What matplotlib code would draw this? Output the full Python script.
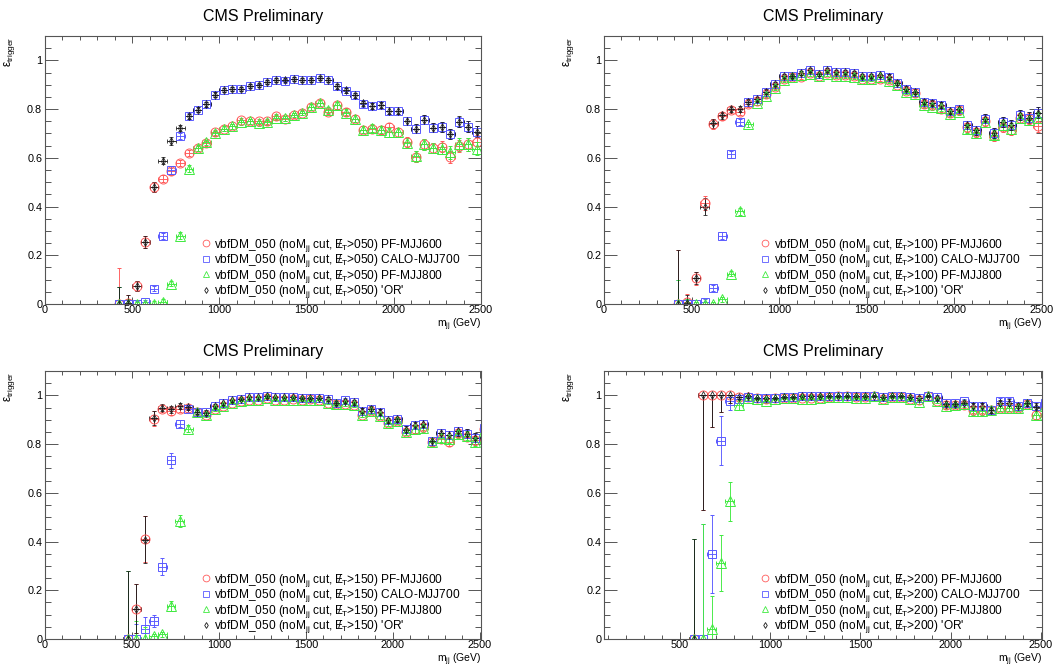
"""
Trigger efficiency vs m_jj for four MET thresholds (vbfDM_050 sample).
"""

import numpy as np
import matplotlib
matplotlib.use("Agg")
import matplotlib.pyplot as plt
from matplotlib.lines import Line2D
from matplotlib.ticker import MultipleLocator, FuncFormatter

plt.rcParams['font.family'] = ['Liberation Sans', 'DejaVu Sans']
plt.rcParams['mathtext.fontset'] = 'custom'
plt.rcParams['mathtext.rm'] = 'Liberation Sans'
plt.rcParams['mathtext.it'] = 'Liberation Sans:italic'
plt.rcParams['mathtext.bf'] = 'Liberation Sans:bold'

# bin centres, 50 GeV bins
MJJ_050 = list(range(425, 2500, 50))
MJJ_100 = list(range(425, 2500, 50))
MJJ_150 = list(range(475, 2550, 50))
MJJ_200 = list(range(575, 2550, 50))

SERIES = ["PF-MJJ600", "CALO-MJJ700", "PF-MJJ800", "'OR'"]

# ---- MET > 050 ----
EFF_050_PF600 = [0.0, 0.005, 0.075, 0.255, 0.48, 0.515, 0.545, 0.58, 0.62, 0.64,
                 0.66, 0.705, 0.72, 0.73, 0.755, 0.75, 0.75, 0.75, 0.77, 0.76,
                 0.775, 0.785, 0.81, 0.825, 0.79, 0.815, 0.79, 0.76, 0.715, 0.72,
                 0.715, 0.725, 0.705, 0.665, 0.605, 0.655, 0.64, 0.645, 0.605, 0.65,
                 0.655, 0.665]
EFF_050_CALO700 = [0.0, 0.0, 0.002, 0.008, 0.063, 0.28, 0.55, 0.69, 0.77, 0.797,
                   0.82, 0.859, 0.877, 0.882, 0.882, 0.896, 0.897, 0.91, 0.918, 0.917,
                   0.924, 0.92, 0.92, 0.928, 0.92, 0.894, 0.876, 0.857, 0.822, 0.812,
                   0.817, 0.793, 0.793, 0.75, 0.72, 0.756, 0.724, 0.728, 0.697, 0.748,
                   0.728, 0.708]
EFF_050_PF800 = [0.0, 0.0, 0.0, 0.0, 0.002, 0.01, 0.084, 0.28, 0.556, 0.64,
                 0.663, 0.70, 0.72, 0.73, 0.746, 0.75, 0.741, 0.745, 0.765, 0.762,
                 0.776, 0.784, 0.81, 0.826, 0.798, 0.815, 0.786, 0.76, 0.715, 0.722,
                 0.716, 0.704, 0.705, 0.662, 0.606, 0.656, 0.64, 0.638, 0.622, 0.655,
                 0.655, 0.638]
EFF_050_OR = [0.0, 0.005, 0.075, 0.255, 0.481, 0.588, 0.669, 0.723, 0.771, 0.797,
              0.82, 0.859, 0.878, 0.883, 0.883, 0.896, 0.898, 0.911, 0.919, 0.918,
              0.925, 0.92, 0.92, 0.929, 0.92, 0.894, 0.877, 0.857, 0.823, 0.812,
              0.818, 0.793, 0.794, 0.75, 0.719, 0.757, 0.724, 0.728, 0.697, 0.749,
              0.728, 0.708]
ERR_050_PF600 = [0.147, 0.03, 0.02, 0.025, 0.02, 0.015, 0.015, 0.012, 0.012, 0.01,
                 0.01, 0.01, 0.01, 0.01, 0.01, 0.01, 0.01, 0.01, 0.01, 0.01,
                 0.01, 0.01, 0.012, 0.012, 0.012, 0.013, 0.013, 0.014, 0.015, 0.015,
                 0.016, 0.017, 0.018, 0.02, 0.022, 0.022, 0.022, 0.023, 0.025, 0.025,
                 0.026, 0.027]
ERR_050_CALO700 = [0.07, 0.02, 0.01, 0.01, 0.01, 0.012, 0.015, 0.012, 0.012, 0.01,
                   0.01, 0.01, 0.008, 0.008, 0.008, 0.008, 0.008, 0.008, 0.008, 0.008,
                   0.008, 0.008, 0.008, 0.008, 0.008, 0.01, 0.01, 0.01, 0.012, 0.012,
                   0.013, 0.014, 0.015, 0.017, 0.018, 0.018, 0.019, 0.02, 0.021, 0.021,
                   0.022, 0.023]
ERR_050_PF800 = [0.07, 0.02, 0.01, 0.01, 0.01, 0.01, 0.012, 0.015, 0.015, 0.012,
                 0.01, 0.01, 0.01, 0.01, 0.01, 0.01, 0.01, 0.01, 0.01, 0.01,
                 0.01, 0.01, 0.012, 0.012, 0.012, 0.013, 0.013, 0.014, 0.015, 0.015,
                 0.016, 0.017, 0.018, 0.02, 0.022, 0.022, 0.022, 0.023, 0.025, 0.025,
                 0.026, 0.027]
ERR_050_OR = [0.07, 0.03, 0.02, 0.025, 0.02, 0.015, 0.015, 0.012, 0.01, 0.01,
              0.01, 0.01, 0.008, 0.008, 0.008, 0.008, 0.008, 0.008, 0.008, 0.008,
              0.008, 0.008, 0.008, 0.008, 0.008, 0.01, 0.01, 0.01, 0.012, 0.012,
              0.013, 0.014, 0.015, 0.017, 0.018, 0.018, 0.019, 0.02, 0.021, 0.021,
              0.022, 0.023]

# ---- MET > 100 ----
EFF_100_PF600 = [0.0, 0.01, 0.105, 0.415, 0.74, 0.77, 0.795, 0.787, 0.82, 0.835,
                 0.86, 0.89, 0.925, 0.93, 0.933, 0.95, 0.935, 0.95, 0.94, 0.94,
                 0.935, 0.925, 0.925, 0.925, 0.92, 0.90, 0.875, 0.865, 0.82, 0.815,
                 0.80, 0.785, 0.795, 0.725, 0.705, 0.75, 0.69, 0.726, 0.715, 0.765,
                 0.76, 0.73]
EFF_100_CALO700 = [0.0, 0.0, 0.0, 0.01, 0.065, 0.28, 0.615, 0.748, 0.83, 0.84,
                   0.871, 0.903, 0.935, 0.937, 0.949, 0.962, 0.942, 0.962, 0.953, 0.953,
                   0.948, 0.935, 0.936, 0.938, 0.933, 0.908, 0.883, 0.872, 0.831, 0.826,
                   0.818, 0.793, 0.80, 0.734, 0.713, 0.76, 0.702, 0.748, 0.735, 0.776,
                   0.765, 0.785]
EFF_100_PF800 = [0.0, 0.0, 0.0, 0.0, 0.0, 0.019, 0.125, 0.38, 0.737, 0.825,
                 0.855, 0.885, 0.92, 0.93, 0.94, 0.945, 0.935, 0.945, 0.935, 0.935,
                 0.93, 0.925, 0.925, 0.93, 0.915, 0.90, 0.87, 0.86, 0.815, 0.81,
                 0.805, 0.78, 0.79, 0.72, 0.70, 0.745, 0.695, 0.735, 0.72, 0.765,
                 0.755, 0.765]
EFF_100_OR = [0.0, 0.005, 0.106, 0.40, 0.741, 0.775, 0.80, 0.801, 0.831, 0.84,
              0.871, 0.903, 0.935, 0.937, 0.949, 0.962, 0.942, 0.962, 0.953, 0.953,
              0.948, 0.935, 0.936, 0.938, 0.933, 0.908, 0.883, 0.872, 0.831, 0.826,
              0.818, 0.793, 0.80, 0.734, 0.713, 0.76, 0.702, 0.748, 0.735, 0.776,
              0.765, 0.785]
ERR_100_PF600 = [0.222, 0.03, 0.025, 0.03, 0.02, 0.015, 0.012, 0.012, 0.01, 0.01,
                 0.01, 0.008, 0.008, 0.008, 0.008, 0.008, 0.008, 0.008, 0.008, 0.008,
                 0.008, 0.008, 0.008, 0.008, 0.009, 0.01, 0.01, 0.011, 0.012, 0.012,
                 0.013, 0.014, 0.015, 0.017, 0.018, 0.018, 0.019, 0.02, 0.021, 0.021,
                 0.022, 0.023]
ERR_100_CALO700 = [0.1, 0.02, 0.01, 0.01, 0.012, 0.015, 0.015, 0.012, 0.01, 0.01,
                   0.01, 0.008, 0.008, 0.008, 0.008, 0.008, 0.008, 0.008, 0.008, 0.008,
                   0.008, 0.008, 0.008, 0.008, 0.009, 0.01, 0.01, 0.011, 0.012, 0.012,
                   0.013, 0.014, 0.015, 0.017, 0.018, 0.018, 0.019, 0.02, 0.021, 0.021,
                   0.022, 0.023]
ERR_100_PF800 = [0.1, 0.02, 0.01, 0.01, 0.01, 0.01, 0.012, 0.015, 0.012, 0.01,
                 0.01, 0.008, 0.008, 0.008, 0.008, 0.008, 0.008, 0.008, 0.008, 0.008,
                 0.008, 0.008, 0.008, 0.008, 0.009, 0.01, 0.01, 0.011, 0.012, 0.012,
                 0.013, 0.014, 0.015, 0.017, 0.018, 0.018, 0.019, 0.02, 0.021, 0.021,
                 0.022, 0.023]
ERR_100_OR = [0.22, 0.03, 0.025, 0.035, 0.02, 0.015, 0.012, 0.012, 0.01, 0.01,
              0.01, 0.008, 0.008, 0.008, 0.008, 0.008, 0.008, 0.008, 0.008, 0.008,
              0.008, 0.008, 0.008, 0.008, 0.009, 0.01, 0.01, 0.011, 0.012, 0.012,
              0.013, 0.014, 0.015, 0.017, 0.018, 0.018, 0.019, 0.02, 0.021, 0.021,
              0.022, 0.023]

# ---- MET > 150 ----
EFF_150_PF600 = [0.0, 0.125, 0.41, 0.905, 0.945, 0.935, 0.945, 0.95, 0.93, 0.92,
                 0.945, 0.955, 0.97, 0.975, 0.98, 0.98, 0.99, 0.98, 0.98, 0.985,
                 0.98, 0.985, 0.98, 0.97, 0.965, 0.965, 0.96, 0.92, 0.935, 0.915,
                 0.885, 0.895, 0.85, 0.86, 0.87, 0.81, 0.82, 0.81, 0.845, 0.83,
                 0.815, 0.86]
EFF_150_CALO700 = [0.0, 0.0, 0.041, 0.075, 0.296, 0.733, 0.884, 0.944, 0.933, 0.93,
                   0.957, 0.967, 0.979, 0.985, 0.992, 0.992, 0.996, 0.993, 0.993, 0.993,
                   0.99, 0.99, 0.99, 0.985, 0.97, 0.98, 0.971, 0.937, 0.945, 0.932,
                   0.897, 0.901, 0.86, 0.88, 0.884, 0.812, 0.845, 0.838, 0.852, 0.842,
                   0.826, 0.866]
EFF_150_PF800 = [0.0, 0.0, 0.0, 0.011, 0.019, 0.136, 0.484, 0.864, 0.93, 0.921,
                 0.945, 0.955, 0.97, 0.975, 0.98, 0.98, 0.988, 0.98, 0.98, 0.98,
                 0.98, 0.98, 0.98, 0.97, 0.965, 0.965, 0.96, 0.92, 0.935, 0.915,
                 0.885, 0.895, 0.85, 0.86, 0.865, 0.81, 0.825, 0.82, 0.84, 0.835,
                 0.81, 0.855]
EFF_150_OR = [0.0, 0.125, 0.408, 0.907, 0.949, 0.943, 0.958, 0.951, 0.933, 0.929,
              0.957, 0.967, 0.979, 0.985, 0.992, 0.992, 0.996, 0.993, 0.993, 0.993,
              0.99, 0.99, 0.99, 0.985, 0.968, 0.976, 0.971, 0.937, 0.945, 0.932,
              0.897, 0.901, 0.859, 0.877, 0.884, 0.812, 0.845, 0.838, 0.852, 0.842,
              0.826, 0.866]
ERR_150_PF600 = [0.28, 0.10, 0.095, 0.03, 0.015, 0.015, 0.012, 0.01, 0.01, 0.01,
                 0.008, 0.007, 0.006, 0.006, 0.005, 0.005, 0.005, 0.005, 0.005, 0.005,
                 0.005, 0.005, 0.006, 0.007, 0.008, 0.008, 0.009, 0.01, 0.01, 0.011,
                 0.012, 0.012, 0.014, 0.014, 0.014, 0.016, 0.016, 0.017, 0.017, 0.018,
                 0.019, 0.02]
ERR_150_CALO700 = [0.28, 0.06, 0.05, 0.025, 0.035, 0.03, 0.015, 0.012, 0.01, 0.01,
                   0.008, 0.007, 0.006, 0.006, 0.005, 0.005, 0.005, 0.005, 0.005, 0.005,
                   0.005, 0.005, 0.006, 0.007, 0.008, 0.008, 0.009, 0.01, 0.01, 0.011,
                   0.012, 0.012, 0.014, 0.014, 0.014, 0.016, 0.016, 0.017, 0.017, 0.018,
                   0.019, 0.02]
ERR_150_PF800 = [0.28, 0.075, 0.05, 0.01, 0.01, 0.02, 0.025, 0.015, 0.01, 0.01,
                 0.008, 0.007, 0.006, 0.006, 0.005, 0.005, 0.005, 0.005, 0.005, 0.005,
                 0.005, 0.005, 0.006, 0.007, 0.008, 0.008, 0.009, 0.01, 0.01, 0.011,
                 0.012, 0.012, 0.014, 0.014, 0.014, 0.016, 0.016, 0.017, 0.017, 0.018,
                 0.019, 0.02]
ERR_150_OR = [0.28, 0.10, 0.095, 0.03, 0.015, 0.015, 0.012, 0.01, 0.01, 0.01,
              0.008, 0.007, 0.006, 0.006, 0.005, 0.005, 0.005, 0.005, 0.005, 0.005,
              0.005, 0.005, 0.006, 0.007, 0.008, 0.008, 0.009, 0.01, 0.01, 0.011,
              0.012, 0.012, 0.014, 0.014, 0.014, 0.016, 0.016, 0.017, 0.017, 0.018,
              0.019, 0.02]

# ---- MET > 200 ----
EFF_200_PF600 = [0.0, 1.0, 1.0, 1.0, 1.0, 0.995, 0.995, 0.99, 0.985, 0.99,
                 0.99, 0.99, 0.99, 0.99, 0.99, 0.995, 0.997, 0.997, 0.995, 0.995,
                 0.998, 0.985, 0.995, 0.995, 0.985, 0.98, 0.998, 0.975, 0.96, 0.96,
                 0.96, 0.94, 0.94, 0.94, 0.95, 0.95, 0.95, 0.965, 0.92, 0.955]
EFF_200_CALO700 = [0.0, 0.0, 0.348, 0.814, 0.978, 0.985, 0.995, 0.99, 0.99, 0.99,
                   0.995, 0.995, 0.997, 0.997, 0.997, 0.997, 0.998, 0.998, 0.997, 0.997,
                   0.999, 0.995, 0.997, 0.997, 0.995, 0.99, 0.999, 0.995, 0.968, 0.968,
                   0.975, 0.955, 0.955, 0.94, 0.975, 0.975, 0.955, 0.97, 0.955, 0.968]
EFF_200_PF800 = [0.0, 0.0, 0.04, 0.31, 0.566, 0.962, 0.99, 0.985, 0.975, 0.985,
                 0.99, 0.99, 0.985, 0.985, 0.99, 0.995, 0.995, 0.995, 0.99, 0.99,
                 0.998, 0.985, 0.995, 0.995, 0.985, 0.973, 0.998, 0.975, 0.955, 0.96,
                 0.965, 0.934, 0.935, 0.94, 0.95, 0.95, 0.95, 0.965, 0.92, 0.955]
EFF_200_OR = [0.0, 1.0, 1.0, 1.0, 1.0, 0.995, 0.997, 0.99, 0.99, 0.99,
              0.995, 0.995, 0.997, 0.997, 0.997, 0.997, 0.998, 0.998, 0.997, 0.997,
              0.999, 0.995, 0.997, 0.997, 0.995, 0.99, 0.999, 0.99, 0.966, 0.965,
              0.97, 0.955, 0.955, 0.941, 0.97, 0.97, 0.955, 0.97, 0.952, 0.965]
ERR_200_PF600 = [0.41, 0.47, 0.13, 0.07, 0.03, 0.01, 0.006, 0.005, 0.005, 0.005,
                 0.004, 0.004, 0.004, 0.004, 0.004, 0.004, 0.004, 0.004, 0.004, 0.004,
                 0.004, 0.005, 0.005, 0.005, 0.006, 0.007, 0.006, 0.008, 0.01, 0.01,
                 0.011, 0.013, 0.014, 0.014, 0.013, 0.014, 0.014, 0.013, 0.018, 0.016]
ERR_200_CALO700 = [0.41, 0.47, 0.16, 0.10, 0.04, 0.015, 0.006, 0.005, 0.005, 0.005,
                   0.004, 0.004, 0.004, 0.004, 0.004, 0.004, 0.004, 0.004, 0.004, 0.004,
                   0.004, 0.005, 0.005, 0.005, 0.006, 0.007, 0.006, 0.008, 0.01, 0.01,
                   0.011, 0.013, 0.014, 0.014, 0.013, 0.014, 0.014, 0.013, 0.018, 0.016]
ERR_200_PF800 = [0.41, 0.47, 0.135, 0.115, 0.08, 0.02, 0.01, 0.005, 0.005, 0.005,
                 0.004, 0.004, 0.004, 0.004, 0.004, 0.004, 0.004, 0.004, 0.004, 0.004,
                 0.004, 0.005, 0.005, 0.005, 0.006, 0.007, 0.006, 0.008, 0.01, 0.01,
                 0.011, 0.013, 0.014, 0.014, 0.013, 0.014, 0.014, 0.013, 0.018, 0.016]
ERR_200_OR = [0.41, 0.47, 0.13, 0.07, 0.03, 0.01, 0.006, 0.005, 0.005, 0.005,
              0.004, 0.004, 0.004, 0.004, 0.004, 0.004, 0.004, 0.004, 0.004, 0.004,
              0.004, 0.005, 0.005, 0.005, 0.006, 0.007, 0.006, 0.008, 0.01, 0.01,
              0.011, 0.013, 0.014, 0.014, 0.013, 0.014, 0.014, 0.013, 0.018, 0.016]

COLORS = ['#ff5a5a', '#5a5aff', '#40ea40', '#1a1a1a']
MARKERS = ['o', 's', '^', 'd']
MSIZES = [6.5, 6.0, 6.5, 4.0]
MEWS = [0.7, 0.7, 0.7, 0.55]
AXES_GREY = '#555555'


def legend_label(met, name):
    return (r"vbfDM_050 (noM$_{\mathrm{jj}}$ cut, $\mathrm{E}\!\!\!/_{\mathrm{T}}$>"
            + met + ") " + name)


def draw_panel(ax, met, mjj, effs, errs, xlim):
    x = np.array(mjj, dtype=float)
    for eff, err, col, mk, ms, mew in zip(effs, errs, COLORS, MARKERS, MSIZES, MEWS):
        y = np.array(eff)
        e = np.array(err)
        # efficiency errors stay inside [0, 1]
        yerr = [np.minimum(e, y), np.minimum(e, 1.0 - y)]
        ax.errorbar(x, y, xerr=25, yerr=yerr, fmt=mk, ms=ms, mfc='none',
                    mec=col, mew=mew, ecolor=col, elinewidth=0.65,
                    capsize=1.2, capthick=0.65)

    ax.set_xlim(*xlim)
    ax.set_ylim(0, 1.1)
    ax.xaxis.set_major_locator(MultipleLocator(500))
    ax.xaxis.set_minor_locator(MultipleLocator(100))
    ax.yaxis.set_major_locator(MultipleLocator(0.2))
    ax.yaxis.set_minor_locator(MultipleLocator(0.05))
    ax.xaxis.set_major_formatter(FuncFormatter(lambda v, p: f"{v:g}"))
    ax.yaxis.set_major_formatter(FuncFormatter(lambda v, p: f"{v:g}"))

    ax.tick_params(which='both', direction='in', top=True, right=True,
                   color=AXES_GREY, width=0.7, labelsize=7.8)
    ax.tick_params(axis='x', which='major', length=5, pad=1.0)
    ax.tick_params(axis='x', which='minor', length=2.8)
    ax.tick_params(axis='y', which='major', length=9.5, pad=2)
    ax.tick_params(axis='y', which='minor', length=4.3)
    for sp in ax.spines.values():
        sp.set_color(AXES_GREY)
        sp.set_linewidth(0.8)

    ax.set_ylabel("ε$_{\\mathrm{trigger}}$", fontsize=8.5, loc='top')
    ax.yaxis.set_label_coords(-0.064, 1.0)
    ax.set_xlabel("m$_{\\mathrm{jj}}$ (GeV)", fontsize=7.5, loc='right')
    ax.xaxis.set_label_coords(1.0, -0.048)

    handles = [Line2D([], [], ls='none', marker=mk, ms=ms * 0.75, color=col,
                      mfc='none', mec=col, mew=0.6)
               for col, mk, ms in zip(COLORS, MARKERS, MSIZES)]
    labels = [legend_label(met, s) for s in SERIES]
    ax.legend(handles, labels, loc='lower left', bbox_to_anchor=(0.36, 0.014),
              frameon=False, fontsize=8.6, handlelength=0.6, handletextpad=0.4,
              labelspacing=-0.12, borderaxespad=0.0, borderpad=0.0)

    ax.set_title("CMS Preliminary", fontsize=11.5, pad=11)


fig = plt.figure(figsize=(10.59, 6.68), dpi=100)
ax_050 = fig.add_axes([0.0425, 0.5449, 0.4117, 0.4012])
ax_100 = fig.add_axes([0.5703, 0.5449, 0.4136, 0.4012])
ax_150 = fig.add_axes([0.0425, 0.0434, 0.4117, 0.4012])
ax_200 = fig.add_axes([0.5703, 0.0434, 0.4136, 0.4012])

draw_panel(ax_050, "050", MJJ_050,
           [EFF_050_PF600, EFF_050_CALO700, EFF_050_PF800, EFF_050_OR],
           [ERR_050_PF600, ERR_050_CALO700, ERR_050_PF800, ERR_050_OR],
           (0, 2500))
draw_panel(ax_100, "100", MJJ_100,
           [EFF_100_PF600, EFF_100_CALO700, EFF_100_PF800, EFF_100_OR],
           [ERR_100_PF600, ERR_100_CALO700, ERR_100_PF800, ERR_100_OR],
           (0, 2500))
draw_panel(ax_150, "150", MJJ_150,
           [EFF_150_PF600, EFF_150_CALO700, EFF_150_PF800, EFF_150_OR],
           [ERR_150_PF600, ERR_150_CALO700, ERR_150_PF800, ERR_150_OR],
           (0, 2507))
draw_panel(ax_200, "200", MJJ_200,
           [EFF_200_PF600, EFF_200_CALO700, EFF_200_PF800, EFF_200_OR],
           [ERR_200_PF600, ERR_200_CALO700, ERR_200_PF800, ERR_200_OR],
           (78, 2507))

fig.savefig("out.png", dpi=100)
